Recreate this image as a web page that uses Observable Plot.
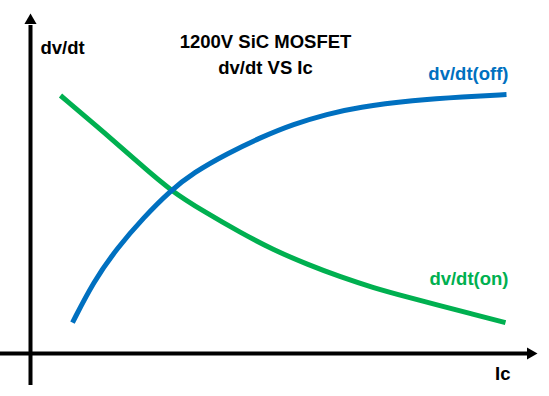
<!DOCTYPE html>
<html>
<head>
<meta charset="utf-8">
<script src="https://cdn.jsdelivr.net/npm/d3@7"></script>
<script src="https://cdn.jsdelivr.net/npm/@observablehq/plot@0.6"></script>
<style>
  html, body { margin: 0; padding: 0; background: #fff; }
</style>
</head>
<body>
<div id="chart"></div>
<script>
// Ic (arbitrary units) and dv/dt (arbitrary units)
const icOff   = [8.4, 12.6, 17.4, 22.6, 28, 32.6, 39.4, 46, 52.6, 59.4, 65.4, 76.6, 86.6, 95.2];
const dvdtOff = [10.3, 24, 35.3, 45.3, 54.3, 60.3, 66.7, 72, 76.5, 79.8, 82.1, 84.4, 85.6, 86.3];
const icOn    = [6, 15, 22, 28, 35, 42, 48.6, 55.4, 62, 68.6, 75.4, 81.4, 88, 95];
const dvdtOn  = [86, 73.3, 63, 54.3, 47, 40.3, 34.5, 29.7, 25.5, 21.9, 18.8, 16.2, 13.3, 10.3];

const titleLines = ["1200V SiC MOSFET", "dv/dt VS Ic"];
const yAxisLabel = "dv/dt";
const xAxisLabel = "Ic";
const seriesLabels = ["dv/dt(off)", "dv/dt(on)"];

const off = icOff.map((x, i) => ({x, y: dvdtOff[i]}));
const on = icOn.map((x, i) => ({x, y: dvdtOn[i]}));

const blue = "#0070C0";
const green = "#00B050";

const chart = Plot.plot({
  width: 549,
  height: 396,
  marginLeft: 30,
  marginRight: 19,
  marginTop: 53,
  marginBottom: 43,
  x: {domain: [0, 100], axis: null},
  y: {domain: [0, 100], axis: null},
  style: {fontFamily: "'Liberation Sans', Arial, sans-serif", background: "#fff"},
  marks: [
    // axes
    Plot.ruleY([0], {x1: -6, x2: 99.4, stroke: "#000", strokeWidth: 4}),
    Plot.ruleX([0], {y1: -10.7, y2: 109.3, stroke: "#000", strokeWidth: 4}),
    Plot.dot([{x: 0, y: 111}], {x: "x", y: "y", symbol: "triangle", r: 4.5, fill: "#000", stroke: null}),
    Plot.dot([{x: 100, y: 0}], {x: "x", y: "y", symbol: "triangle", r: 4.5, fill: "#000", stroke: null, rotate: 90}),
    // curves
    Plot.line(on, {x: "x", y: "y", stroke: green, strokeWidth: 5, curve: "basis", strokeLinecap: "butt"}),
    Plot.line(off, {x: "x", y: "y", stroke: blue, strokeWidth: 5, curve: "basis", strokeLinecap: "butt"}),
    // title
    Plot.text([titleLines[0]], {x: 47, y: 103.7, text: d => d, fontSize: 18.5, fontWeight: "bold", fill: "#000"}),
    Plot.text([titleLines[1]], {x: 47, y: 95.3, text: d => d, fontSize: 18.5, fontWeight: "bold", fill: "#000"}),
    // axis labels
    Plot.text([yAxisLabel], {x: 2, y: 101.7, text: d => d, fontSize: 18.5, fontWeight: "bold", textAnchor: "start", fill: "#000"}),
    Plot.text([xAxisLabel], {x: 96, y: -6.7, text: d => d, fontSize: 18.5, fontWeight: "bold", textAnchor: "end", fill: "#000"}),
    // series labels
    Plot.text([seriesLabels[0]], {x: 95.6, y: 93.3, text: d => d, fontSize: 18.5, fontWeight: "bold", textAnchor: "end", fill: blue}),
    Plot.text([seriesLabels[1]], {x: 95.6, y: 24.7, text: d => d, fontSize: 18.5, fontWeight: "bold", textAnchor: "end", fill: green})
  ]
});
document.getElementById("chart").appendChild(chart);
</script>
</body>
</html>
